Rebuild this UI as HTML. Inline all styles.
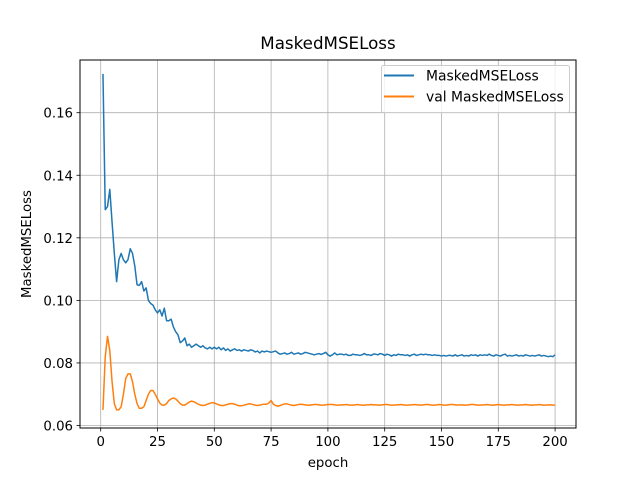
<!DOCTYPE html>
<html><head><meta charset="utf-8"><style>
body{margin:0;background:#fff;}
svg{display:block;font-family:"DejaVu Sans","Liberation Sans",sans-serif;}
</style></head><body>
<svg id="chart" width="640" height="480" viewBox="0 0 640 480">
<rect width="640" height="480" fill="#fff"/>
<g id="grid"></g>
<g id="series"></g>
<rect x="80" y="60" width="496" height="368" fill="none" stroke="#000" stroke-width="1"/>
<g id="ticks"></g>
<text x="328" y="49" font-size="16.7" text-anchor="middle">MaskedMSELoss</text>
<text x="328" y="467" font-size="13.3" text-anchor="middle">epoch</text>
<text transform="translate(31,244) rotate(-90)" font-size="13.3" text-anchor="middle">MaskedMSELoss</text>
<g>
<rect x="381.5" y="65.5" width="188" height="47" rx="2" fill="#fff" fill-opacity="0.8" stroke="#ccc"/>
<g>
<line x1="384" y1="75.5" x2="414" y2="75.5" stroke="#1f77b4" stroke-width="2"/>
<text x="426" y="80.5" font-size="13.9">MaskedMSELoss</text></g>
<g>
<line x1="384" y1="96.5" x2="414" y2="96.5" stroke="#ff7f0e" stroke-width="2"/>
<text x="426" y="101.5" font-size="13.9">val MaskedMSELoss</text></g>
</g>
</svg>
<script>
const xTicks=[0,25,50,75,100,125,150,175,200];
const yTicks=[0.06,0.08,0.10,0.12,0.14,0.16];
const yTickLabels=["0.06","0.08","0.10","0.12","0.14","0.16"];
const train=[.1724,.129,.130,.1355,.125,.115,.106,.113,.115,.113,.112,.113,.1165,.115,.111,.105,.1048,.106,.103,.104,.100,.099,.0985,.097,.096,.097,.095,.0975,.0935,.0935,.094,.0915,.090,.089,.0865,.087,.088,.0855,.086,.085,
.0855,.086,.0855,.085,.0855,.0848,.0845,.085,.0845,.085,
.0845,.085,.0842,.0848,.084,.0845,.0838,.0842,.0845,.084,
.0842,.0838,.0842,.084,.0838,.0842,.084,.0835,.0838,.0832,
.0838,.0835,.0838,.0836,.0834,.0836,.0838,.0832,.0828,.083,
.0832,.0828,.083,.0834,.0828,.083,.0832,.0828,.083,.0834,
.0832,.083,.0828,.0826,.0828,.083,.0827,.083,.0834,.0826,
.0822,.0826,.0832,.0826,.0828,.0828,.0826,.0828,.0824,.0824,
.0828,.0826,.0826,.0824,.0826,.083,.0826,.0826,.0824,.0828,
.0828,.0826,.083,.0828,.0824,.0828,.0826,.0822,.0826,.0824,
.0828,.0826,.0826,.0824,.0826,.0822,.0826,.0828,.0824,.0826,
.0828,.0826,.0828,.0826,.0826,.0824,.0826,.0824,.0824,.0822,
.0824,.0822,.0824,.0824,.0822,.0826,.0822,.0824,.0826,.0822,
.0824,.0822,.0826,.0824,.0826,.0822,.0826,.0824,.0826,.0824,
.0828,.0824,.0822,.0826,.0824,.0822,.0826,.0828,.0822,.0824,
.0822,.0824,.0826,.0822,.0824,.0822,.0826,.0824,.0822,.0824,
.0822,.0824,.0826,.0822,.0824,.0822,.082,.0822,.082,.0826];
const val=[.065,.082,.0885,.084,.074,.067,.065,.065,.066,.070,.075,.0765,.0765,.074,.070,.067,.0655,.0655,.066,.068,.070,.0712,.0712,.070,.0685,.0672,.0665,.0665,.067,.068,.0685,.0688,.0685,.0678,.067,.0665,.0665,.067,.0675,.0678,
.0676,.0672,.0668,.0665,.0664,.0665,.0668,.0671,.0673,.0672,
.0669,.0666,.0664,.0664,.0666,.0668,.067,.067,.0668,.0665,
.0663,.0663,.0665,.0667,.0669,.0669,.0667,.0665,.0664,.0665,
.0667,.0668,.0668,.0672,.068,.0668,.0664,.0662,.0664,.0667,
.0669,.0669,.0667,.0665,.0664,.0665,.0667,.0668,.0667,.0666,
.0665,.0665,.0666,.0667,.0667,.0666,.0665,.0665,.0666,.0667,
.0667,.0667,.0666,.0665,.0665,.0666,.0666,.0667,.0666,.0665,
.0665,.0666,.0667,.0666,.0665,.0665,.0666,.0666,.0667,.0666,
.0666,.0665,.0665,.0666,.0667,.0667,.0666,.0665,.0665,.0666,
.0666,.0667,.0666,.0665,.0665,.0666,.0666,.0667,.0666,.0666,
.0665,.0666,.0667,.0667,.0666,.0665,.0665,.0666,.0667,.0666,
.0665,.0665,.0666,.0667,.0667,.0666,.0665,.0666,.0666,.0665,
.0665,.0666,.0667,.0667,.0666,.0665,.0665,.0666,.0666,.0667,
.0666,.0665,.0665,.0666,.0667,.0666,.0665,.0665,.0666,.0666,
.0667,.0666,.0665,.0665,.0666,.0666,.0667,.0666,.0665,.0665,
.0666,.0666,.0667,.0666,.0665,.0665,.0666,.0666,.0665,.0665];
const NS="http://www.w3.org/2000/svg";
const X=e=>100.7+(e-0)*(555.1-100.7)/200;
const Y=v=>425.5-(v-0.06)*3128;
const grid=document.getElementById('grid'),ticks=document.getElementById('ticks'),series=document.getElementById('series');
function mk(tag,attrs,parent){const el=document.createElementNS(NS,tag);for(const k in attrs)el.setAttribute(k,attrs[k]);parent.appendChild(el);return el;}
xTicks.forEach(t=>{const x=X(t);
 const g=mk('line',{x1:x,x2:x,y1:60,y2:428,stroke:'#b0b0b0','stroke-width':0.8},grid);
 
 
 mk('line',{x1:x,x2:x,y1:428,y2:431.5,stroke:'#000','stroke-width':0.8},ticks);
 const tx=mk('text',{x:x,y:446,'font-size':13.3,'text-anchor':'middle'},ticks);tx.textContent=t;
 
 });
yTicks.forEach((t,i)=>{const y=Y(t);
 const g=mk('line',{x1:80,x2:576,y1:y,y2:y,stroke:'#b0b0b0','stroke-width':0.8},grid);
 
 
 mk('line',{x1:76.5,x2:80,y1:y,y2:y,stroke:'#000','stroke-width':0.8},ticks);
 const tx=mk('text',{x:73,y:y+5,'font-size':13.3,'text-anchor':'end'},ticks);tx.textContent=yTickLabels[i];
 
 });
function line(arr,color,name){const d=arr.map((v,i)=>(i?'L':'M')+X(i+1).toFixed(2)+','+Y(v).toFixed(2)).join('');
 const p=mk('path',{d:d,fill:'none',stroke:color,'stroke-width':1.5,'stroke-linejoin':'round'},series);
 
 }
line(train,'#1f77b4','train-loss-line');
line(val,'#ff7f0e','val-loss-line');
</script>
</body></html>
